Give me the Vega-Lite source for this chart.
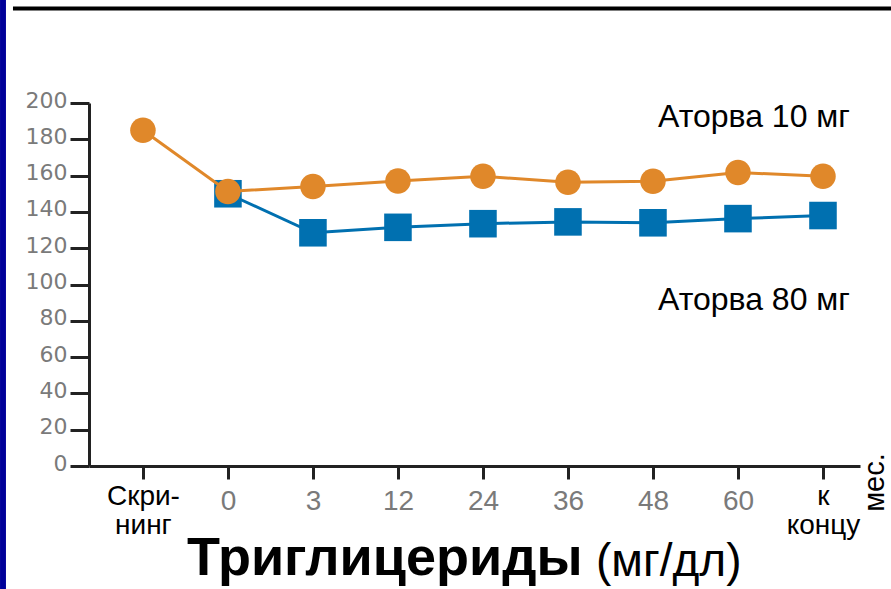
{
  "$schema": "https://vega.github.io/schema/vega-lite/v6.json",
  "width": 771,
  "height": 363,
  "autosize": {"type": "none"},
  "padding": {"left": 89, "top": 103, "right": 31, "bottom": 123},
  "background": "#ffffff",
  "config": {"view": {"stroke": null}, "axis": {"grid": false}},
  "layer": [
    {
      "data": {
        "values": [
          {"time": "0", "group": "Аторва 80 мг", "tg": 150},
          {"time": "3", "group": "Аторва 80 мг", "tg": 128.5},
          {"time": "12", "group": "Аторва 80 мг", "tg": 131.5},
          {"time": "24", "group": "Аторва 80 мг", "tg": 133.5},
          {"time": "36", "group": "Аторва 80 мг", "tg": 134.5},
          {"time": "48", "group": "Аторва 80 мг", "tg": 134},
          {"time": "60", "group": "Аторва 80 мг", "tg": 136.3},
          {"time": "к концу", "group": "Аторва 80 мг", "tg": 138},
          {"time": "Скрининг", "group": "Аторва 10 мг", "tg": 185},
          {"time": "0", "group": "Аторва 10 мг", "tg": 151.3},
          {"time": "3", "group": "Аторва 10 мг", "tg": 154},
          {"time": "12", "group": "Аторва 10 мг", "tg": 157},
          {"time": "24", "group": "Аторва 10 мг", "tg": 159.6},
          {"time": "36", "group": "Аторва 10 мг", "tg": 156.3},
          {"time": "48", "group": "Аторва 10 мг", "tg": 156.9},
          {"time": "60", "group": "Аторва 10 мг", "tg": 161.7},
          {"time": "к концу", "group": "Аторва 10 мг", "tg": 159.6}
        ]
      },
      "encoding": {
        "x": {
          "field": "time",
          "type": "nominal",
          "sort": ["Скрининг", "0", "3", "12", "24", "36", "48", "60", "к концу"],
          "scale": {"type": "point", "padding": 0.535, "align": 0.593},
          "axis": {
            "title": null,
            "domainColor": "#222222",
            "domainWidth": 3,
            "tickColor": "#222222",
            "tickWidth": 3,
            "tickSize": 13,
            "labelAngle": 0,
            "labelAlign": "center",
            "labelBaseline": "top",
            "labelOverlap": false,
            "labelLineHeight": 29,
            "labelExpr": "datum.value == 'Скрининг' ? ['Скри-', 'нинг'] : datum.value == 'к концу' ? ['к', 'концу'] : datum.value",
            "labelFont": "Liberation Sans",
            "labelFontSize": {"condition": {"test": "datum.value == 'Скрининг' || datum.value == 'к концу'", "value": 28}, "value": 28},
            "labelColor": {"condition": {"test": "datum.value == 'Скрининг' || datum.value == 'к концу'", "value": "#000000"}, "value": "#7a7a7a"},
            "labelPadding": {"condition": {"test": "datum.value == 'Скрининг' || datum.value == 'к концу'", "value": 3}, "value": 8}
          }
        },
        "y": {
          "field": "tg",
          "type": "quantitative",
          "scale": {"domain": [0, 200], "nice": false},
          "axis": {
            "title": null,
            "values": [0, 20, 40, 60, 80, 100, 120, 140, 160, 180, 200],
            "domainColor": "#222222",
            "domainWidth": 3,
            "tickColor": "#222222",
            "tickWidth": 3,
            "tickSize": 19,
            "labelFont": "DejaVu Sans",
            "labelFontSize": 22,
            "labelColor": "#7a7a7a",
            "labelPadding": 3,
            "labelBaseline": "middle",
            "labelOffset": -3
          }
        },
        "order": {"value": null}
      },
      "layer": [
        {
          "transform": [{"filter": "datum.group == 'Аторва 80 мг'"}],
          "mark": {"type": "line", "color": "#0070B0", "strokeWidth": 3}
        },
        {
          "transform": [{"filter": "datum.group == 'Аторва 80 мг'"}],
          "mark": {"type": "point", "shape": "square", "filled": true, "size": 760, "color": "#0070B0", "opacity": 1}
        },
        {
          "transform": [{"filter": "datum.group == 'Аторва 10 мг'"}],
          "mark": {"type": "line", "color": "#E0882A", "strokeWidth": 3}
        },
        {
          "transform": [{"filter": "datum.group == 'Аторва 10 мг'"}],
          "mark": {"type": "point", "shape": "circle", "filled": true, "size": 650, "color": "#E0882A", "opacity": 1}
        }
      ]
    },
    {
      "data": {"values": [{}]},
      "layer": [
        {
          "mark": {"type": "rect", "color": "#000099"},
          "encoding": {
            "x": {"datum": -0.1154, "type": "quantitative", "scale": {"domain": [0, 1]}, "axis": null},
            "x2": {"datum": -0.1077},
            "y": {"datum": 1.2837, "type": "quantitative", "scale": {"domain": [0, 1]}, "axis": null},
            "y2": {"datum": -0.3388}
          }
        },
        {
          "mark": {"type": "rule", "color": "#000000", "strokeWidth": 4},
          "encoding": {
            "x": {"datum": -0.0986, "type": "quantitative", "scale": {"domain": [0, 1]}, "axis": null},
            "x2": {"datum": 1.0402},
            "y": {"datum": 1.2603, "type": "quantitative", "scale": {"domain": [0, 1]}, "axis": null}
          }
        },
        {
          "mark": {"type": "text", "text": "Аторва 10 мг", "font": "Liberation Sans", "fontSize": 32, "align": "left", "baseline": "alphabetic", "color": "#000000"},
          "encoding": {
            "x": {"datum": 0.738, "type": "quantitative", "scale": {"domain": [0, 1]}, "axis": null},
            "y": {"datum": 0.9339, "type": "quantitative", "scale": {"domain": [0, 1]}, "axis": null}
          }
        },
        {
          "mark": {"type": "text", "text": "Аторва 80 мг", "font": "Liberation Sans", "fontSize": 32, "align": "left", "baseline": "alphabetic", "color": "#000000"},
          "encoding": {
            "x": {"datum": 0.738, "type": "quantitative", "scale": {"domain": [0, 1]}, "axis": null},
            "y": {"datum": 0.4298, "type": "quantitative", "scale": {"domain": [0, 1]}, "axis": null}
          }
        },
        {
          "mark": {"type": "text", "text": "мес.", "font": "Liberation Sans", "fontSize": 29, "angle": 270, "align": "center", "baseline": "middle", "color": "#000000"},
          "encoding": {
            "x": {"datum": 1.0195, "type": "quantitative", "scale": {"domain": [0, 1]}, "axis": null},
            "y": {"datum": -0.0455, "type": "quantitative", "scale": {"domain": [0, 1]}, "axis": null}
          }
        },
        {
          "mark": {"type": "text", "text": "Триглицериды", "font": "Liberation Sans", "fontSize": 54, "fontWeight": "bold", "align": "left", "baseline": "alphabetic", "color": "#000000"},
          "encoding": {
            "x": {"datum": 0.1271, "type": "quantitative", "scale": {"domain": [0, 1]}, "axis": null},
            "y": {"datum": -0.3003, "type": "quantitative", "scale": {"domain": [0, 1]}, "axis": null}
          }
        },
        {
          "mark": {"type": "text", "text": "(мг/дл)", "font": "Liberation Sans", "fontSize": 46, "align": "left", "baseline": "alphabetic", "color": "#000000"},
          "encoding": {
            "x": {"datum": 0.6576, "type": "quantitative", "scale": {"domain": [0, 1]}, "axis": null},
            "y": {"datum": -0.303, "type": "quantitative", "scale": {"domain": [0, 1]}, "axis": null}
          }
        }
      ]
    }
  ],
  "resolve": {"scale": {"x": "independent", "y": "independent"}}
}
